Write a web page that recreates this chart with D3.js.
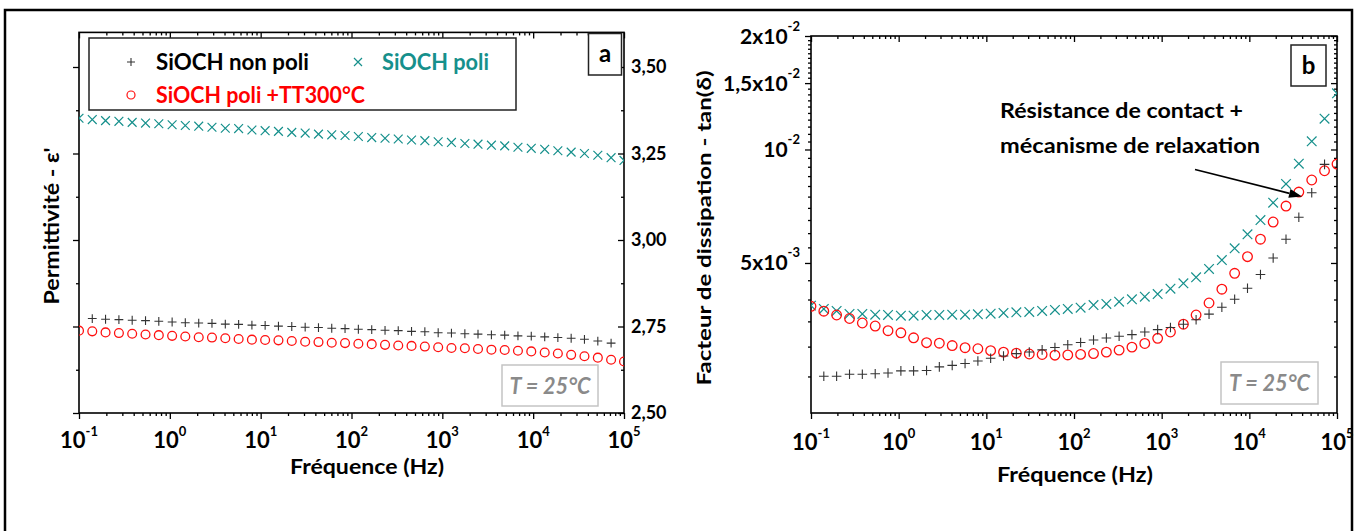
<!DOCTYPE html>
<html><head><meta charset="utf-8">
<script src="https://cdn.jsdelivr.net/npm/d3@7"></script>
<style>
body{margin:0;background:#fff}
text{font-family:Lato,'Open Sans',sans-serif;font-weight:bold}
</style>
</head><body>
<svg id="c" width="1357" height="531"></svg>
<script>
// ---------- DATA ----------
const freq = [0.1, 0.14, 0.196, 0.275, 0.385, 0.54, 0.756, 1.06, 1.48, 2.08, 2.91, 4.08, 5.72, 8.01,
  11.2, 15.7, 22.0, 30.9, 43.3, 60.6, 84.9, 119, 167, 234, 327, 458, 642, 900, 1260, 1770, 2470,
  3470, 4860, 6800, 9530, 13400, 18700, 26200, 36700, 51500, 72100, 100000];

// (a) permittivity
const epsNonPoli = [null, 2.773, 2.771, 2.770, 2.768, 2.767, 2.765, 2.763, 2.761, 2.760, 2.759, 2.757,
  2.756, 2.754, 2.753, 2.751, 2.750, 2.748, 2.747, 2.745, 2.744, 2.742, 2.741, 2.739, 2.738, 2.736,
  2.735, 2.732, 2.731, 2.729, 2.728, 2.726, 2.725, 2.723, 2.722, 2.720, 2.718, 2.716, 2.713, 2.708, 2.702, null];
const epsPoli = [3.352, 3.348, 3.345, 3.343, 3.340, 3.338, 3.336, 3.333, 3.331, 3.329, 3.326, 3.323,
  3.322, 3.318, 3.316, 3.314, 3.311, 3.309, 3.306, 3.304, 3.302, 3.299, 3.296, 3.294, 3.292, 3.289,
  3.287, 3.284, 3.282, 3.279, 3.277, 3.274, 3.272, 3.268, 3.265, 3.262, 3.258, 3.254, 3.250, 3.245, 3.238, 3.230];
const epsTT = [2.738, 2.736, 2.733, 2.731, 2.729, 2.727, 2.725, 2.723, 2.721, 2.719, 2.718, 2.716,
  2.714, 2.712, 2.711, 2.710, 2.708, 2.706, 2.705, 2.703, 2.702, 2.700, 2.699, 2.697, 2.695, 2.694,
  2.692, 2.690, 2.688, 2.687, 2.685, 2.683, 2.682, 2.680, 2.678, 2.675, 2.672, 2.668, 2.664, 2.660, 2.654, 2.649];

// (b) dissipation factor tan(delta)
const tanNonPoli = [null, 0.002504, 0.002504, 0.002535, 0.002535, 0.002542, 0.002553, 0.002587, 0.002587,
  0.002592, 0.002651, 0.002676, 0.002706, 0.002747, 0.002794, 0.002834, 0.002874, 0.002904, 0.002940,
  0.002985, 0.003034, 0.003076, 0.003123, 0.003162, 0.003195, 0.003227, 0.003280, 0.003327, 0.003371,
  0.003439, 0.003536, 0.003658, 0.003816, 0.004007, 0.004284, 0.004661, 0.005155, 0.005781, 0.006608,
  0.007681, 0.009133, null];
const tanPoli = [0.003853, 0.003775, 0.003730, 0.003662, 0.003662, 0.003646, 0.003639, 0.003624, 0.003624,
  0.003639, 0.003639, 0.003646, 0.003646, 0.003655, 0.003668, 0.003684, 0.003700, 0.003707, 0.003730,
  0.003752, 0.003775, 0.003806, 0.003868, 0.003892, 0.003946, 0.004004, 0.004069, 0.004136, 0.004273,
  0.004416, 0.004582, 0.004820, 0.005090, 0.005468, 0.005957, 0.006500, 0.007224, 0.008100, 0.009168,
  0.010512, 0.012068, 0.014094];
const tanTT = [0.003838, 0.003724, 0.003639, 0.003562, 0.003465, 0.003402, 0.003306, 0.003264, 0.003166,
  0.003073, 0.003063, 0.003020, 0.002980, 0.002961, 0.002927, 0.002900, 0.002882, 0.002868, 0.002859,
  0.002847, 0.002851, 0.002861, 0.002876, 0.002900, 0.002936, 0.002990, 0.003058, 0.003156, 0.003280,
  0.003440, 0.003639, 0.003916, 0.004260, 0.004695, 0.005196, 0.005781, 0.006421, 0.007080, 0.007712,
  0.008300, 0.008782, 0.009150];

// tick labels
const xTickExp = ["-1", "0", "1", "2", "3", "4", "5"];
const aTickVals = [2.5, 2.75, 3.0, 3.25, 3.5];
const aTickLabels = ["2,50", "2,75", "3,00", "3,25", "3,50"];
const bTickVals = [0.005, 0.01, 0.015, 0.02];
const bTickBase = ["5x10", "10", "1,5x10", "2x10"];
const bTickSup = ["-3", "-2", "-2", "-2"];
const seriesNames = ["SiOCH non poli", "SiOCH poli", "SiOCH poli +TT300°C"];

// ---------- STYLE ----------
const TEAL = "#16908c", RED = "#ff1010", DARK = "#333";
const svg = d3.select("#c");
svg.append("rect").attr("width", 1357).attr("height", 531).attr("fill", "#fff");
svg.append("rect").attr("x", 5).attr("y", 10).attr("width", 1347).attr("height", 560)
  .attr("fill", "none").attr("stroke", "#000").attr("stroke-width", 2.5);

function fit(t, w) { t.attr("textLength", w).attr("lengthAdjust", "spacingAndGlyphs"); return t; }

const xMajor = xTickExp.map(e => Math.pow(10, +e));
const xMinor = [];
for (let e = -1; e < 5; e++) for (let k = 2; k < 10; k++) xMinor.push(+(k * Math.pow(10, e)).toPrecision(3));

function tickSet(g, gen, scale, vals, size, tr) {
  const gg = g.append("g").attr("transform", tr)
    .call(gen(scale).tickValues(vals).tickSize(size).tickFormat(""));
  gg.select(".domain").remove();
  gg.selectAll("line").attr("stroke", "#000").attr("stroke-width", 1.3);
}

function plusPath(x, y, s) { return `M${x - s},${y}H${x + s}M${x},${y - s}V${y + s}`; }
function crossPath(x, y, s) { return `M${x - s},${y - s}L${x + s},${y + s}M${x - s},${y + s}L${x + s},${y - s}`; }

function drawPanel(o) {
  const g = svg.append("g");
  const [x0, x1] = o.x.range(), [y0, y1] = o.y.range();
  const id = "clip" + o.name;
  svg.append("clipPath").attr("id", id).append("rect")
    .attr("x", x0).attr("y", y1).attr("width", x1 - x0).attr("height", y0 - y1);
  // ticks
  tickSet(g, d3.axisBottom, o.x, xMajor, 6, `translate(0,${y0})`);
  tickSet(g, d3.axisBottom, o.x, xMinor, 3, `translate(0,${y0})`);
  tickSet(g, d3.axisTop, o.x, xMajor, -6, `translate(0,${y1})`);
  tickSet(g, d3.axisTop, o.x, xMinor, -3, `translate(0,${y1})`);
  tickSet(g, d3.axisLeft, o.y, o.yMajor, 6, `translate(${x0},0)`);
  tickSet(g, d3.axisLeft, o.y, o.yMinor, 3, `translate(${x0},0)`);
  tickSet(g, d3.axisRight, o.y, o.yMajor, -6, `translate(${x1},0)`);
  tickSet(g, d3.axisRight, o.y, o.yMinor, -3, `translate(${x1},0)`);
  g.append("rect").attr("x", x0).attr("y", y1).attr("width", x1 - x0).attr("height", y0 - y1)
    .attr("fill", "none").attr("stroke", "#000").attr("stroke-width", 1.6);
  // x tick labels
  xMajor.forEach((v, i) => {
    const t = g.append("text").attr("x", o.x(v)).attr("y", o.xLabY).attr("text-anchor", "middle")
      .attr("font-size", 22).attr("fill", "#000");
    t.append("tspan").text("10");
    t.append("tspan").attr("dy", -12).attr("font-size", 13).text(xTickExp[i]);
  });
  // x title
  fit(g.append("text").attr("x", o.xTitleX).attr("y", o.xTitleY).attr("text-anchor", "middle")
    .attr("font-size", 21).text("Fréquence (Hz)"), o.xTitleW);
  // data
  const d = g.append("g").attr("clip-path", `url(#${id})`);
  const pts = arr => freq.map((f, i) => [f, arr[i]]).filter(p => p[1] != null).map(p => [o.x(p[0]), o.y(p[1])]);
  d.selectAll(null).data(pts(o.poli)).join("path").attr("d", p => crossPath(p[0], p[1], o.ms))
    .attr("stroke", TEAL).attr("stroke-width", 1.2).attr("fill", "none");
  d.selectAll(null).data(pts(o.tt)).join("circle").attr("cx", p => p[0]).attr("cy", p => p[1])
    .attr("r", o.ms).attr("stroke", RED).attr("stroke-width", 1.3).attr("fill", "none");
  d.selectAll(null).data(pts(o.nonpoli)).join("path").attr("d", p => plusPath(p[0], p[1], o.ms))
    .attr("stroke", DARK).attr("stroke-width", 1.1).attr("fill", "none");
  // panel letter box
  g.append("rect").attr("x", o.box[0]).attr("y", o.box[1]).attr("width", o.box[2]).attr("height", o.box[3])
    .attr("fill", "#fff").attr("stroke", "#222").attr("stroke-width", 1.5);
  g.append("text").attr("x", o.box[0] + o.box[2] / 2).attr("y", o.box[1] + o.box[3] / 2 + 8)
    .attr("text-anchor", "middle").attr("font-size", 24).text(o.name);
  // temperature box
  g.append("rect").attr("x", o.tbox[0]).attr("y", o.tbox[1]).attr("width", o.tbox[2]).attr("height", o.tbox[3])
    .attr("fill", "#fff").attr("stroke", "#c4c4c4").attr("stroke-width", 1.5);
  fit(g.append("text").attr("x", o.tbox[0] + o.tbox[2] / 2).attr("y", o.tbox[1] + o.tbox[3] / 2 + 8)
    .attr("text-anchor", "middle").attr("font-size", 22).attr("font-style", "italic")
    .attr("fill", "#8a8a8a").text("T = 25°C"), 81);
  return g;
}

// ---------- PANEL A ----------
const xa = d3.scaleLog().domain([0.1, 1e5]).range([79, 624]);
const ya = d3.scaleLinear().domain([2.5, 3.6]).range([413, 32.4]);
const ga = drawPanel({
  name: "a", x: xa, y: ya, yMajor: aTickVals, yMinor: [2.625, 2.875, 3.125, 3.375],
  poli: epsPoli, tt: epsTT, nonpoli: epsNonPoli, ms: 4.4,
  xLabY: 448, xTitleX: 367, xTitleY: 474, xTitleW: 154,
  box: [588.5, 33.5, 33, 41.5], tbox: [502, 365, 96, 41]
});
aTickVals.forEach((v, i) => {
  ga.append("text").attr("x", 631).attr("y", ya(v) + 6).attr("font-size", 18).text(aTickLabels[i]);
});
fit(ga.append("text").attr("transform", "translate(59,226) rotate(-90)").attr("text-anchor", "middle")
  .attr("font-size", 21).text("Permittivité - ε'"), 157);

// legend
ga.append("rect").attr("x", 89).attr("y", 38).attr("width", 427).attr("height", 72)
  .attr("fill", "#fff").attr("stroke", "#222").attr("stroke-width", 1.5);
ga.append("path").attr("d", plusPath(131, 62, 4)).attr("stroke", DARK).attr("stroke-width", 1.1);
ga.append("path").attr("d", crossPath(358, 62, 4)).attr("stroke", TEAL).attr("stroke-width", 1.2);
ga.append("circle").attr("cx", 131).attr("cy", 95).attr("r", 4).attr("fill", "none")
  .attr("stroke", RED).attr("stroke-width", 1.2);
fit(ga.append("text").attr("x", 156).attr("y", 69.5).attr("font-size", 22).attr("fill", "#000").text(seriesNames[0]), 153);
fit(ga.append("text").attr("x", 382).attr("y", 69.5).attr("font-size", 22).attr("fill", TEAL).text(seriesNames[1]), 107);
fit(ga.append("text").attr("x", 156).attr("y", 102.5).attr("font-size", 22).attr("fill", "#ff0000").text(seriesNames[2]), 209);

// ---------- PANEL B ----------
const xb = d3.scaleLog().domain([0.1, 1e5]).range([811, 1337]);
const yb = d3.scaleLog().domain([0.002, 0.02]).range([413, 36]);
const bMinor = [];
for (let k = 5; k <= 39; k++) { const v = +(k * 0.0005).toFixed(4); if (k % 10 !== 0 && k !== 30) bMinor.push(v); }
const gb = drawPanel({
  name: "b", x: xb, y: yb, yMajor: bTickVals, yMinor: bMinor,
  poli: tanPoli, tt: tanTT, nonpoli: tanNonPoli, ms: 4.8,
  xLabY: 450, xTitleX: 1075, xTitleY: 482, xTitleW: 156,
  box: [1291, 45, 35, 41], tbox: [1221, 362, 97, 42]
});
bTickVals.forEach((v, i) => {
  const t = gb.append("text").attr("x", 800).attr("y", yb(v) + 7.5).attr("text-anchor", "end").attr("font-size", 21);
  t.append("tspan").text(bTickBase[i]);
  t.append("tspan").attr("dy", -13).attr("font-size", 13).text(bTickSup[i]);
});
fit(gb.append("text").attr("transform", "translate(711,228) rotate(-90)").attr("text-anchor", "middle")
  .attr("font-size", 19).text("Facteur de dissipation -  tan(δ)"), 315);

// annotation with arrow
fit(gb.append("text").attr("x", 1000).attr("y", 118).attr("font-size", 21).text("Résistance de contact +"), 243);
fit(gb.append("text").attr("x", 1000).attr("y", 153).attr("font-size", 21).text("mécanisme de relaxation"), 260);
const ax1 = 1195, ay1 = 169.5, ax2 = 1302, ay2 = 196.5;
const ang = Math.atan2(ay2 - ay1, ax2 - ax1), L = 13, W = 4.5;
const bx = ax2 - L * Math.cos(ang), by = ay2 - L * Math.sin(ang);
gb.append("line").attr("x1", ax1).attr("y1", ay1).attr("x2", bx).attr("y2", by)
  .attr("stroke", "#000").attr("stroke-width", 1.7);
gb.append("path").attr("d",
  `M${ax2},${ay2}L${bx - W * Math.sin(ang)},${by + W * Math.cos(ang)}L${bx + W * Math.sin(ang)},${by - W * Math.cos(ang)}Z`)
  .attr("fill", "#000");
</script>
</body></html>
